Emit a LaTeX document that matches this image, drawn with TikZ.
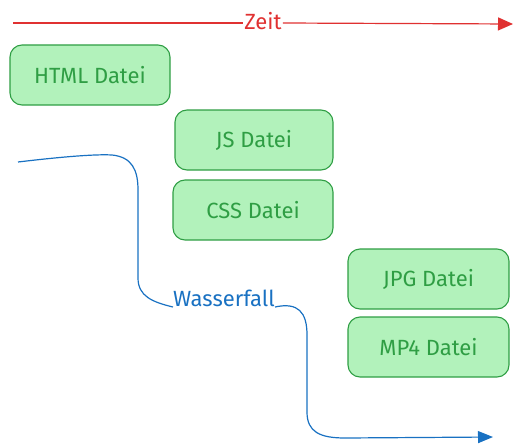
\documentclass[tikz,border=0pt]{standalone}
\usepackage{fontspec}
\setmainfont{Fira Sans}
\usetikzlibrary{arrows.meta}
\definecolor{boxfill}{HTML}{B2F2BB}
\definecolor{boxline}{HTML}{2F9E44}
\definecolor{zeitred}{HTML}{E03131}
\definecolor{fallblue}{HTML}{1971C2}
\tikzset{
  filebox/.style={draw=boxline, fill=boxfill, line width=1.1pt, rounded corners=12pt,
    minimum width=160pt, minimum height=60pt, text=boxline, font=\fontsize{22}{24}\selectfont},
  lbl/.style={inner sep=1pt, font=\fontsize{22}{24}\selectfont},
}
\begin{document}
\begin{tikzpicture}[x=1pt,y=-1pt]
\useasboundingbox (0,0) rectangle (532,444);
% time axis
\coordinate (t0) at (13,23);
\coordinate (t1) at (513,24);
\node[lbl, text=zeitred] (zeit) at (263,21) {Zeit};
\draw[zeitred, line width=1.2pt] (t0) -- (zeit.west |- t0);
\draw[zeitred, line width=1.2pt, -{Triangle[length=15pt,width=13pt]}] (zeit.east |- t0) -- (t1);
% boxes
\node[filebox] (html) at (90,75) {HTML Datei};
\node[filebox, minimum width=158pt] (js) at (254,140) {JS Datei};
\node[filebox] (css) at (253,210) {CSS Datei};
\node[filebox, minimum width=161pt] (jpg) at (428.5,279) {JPG Datei};
\node[filebox, minimum width=161pt] (mp4) at (428.5,347) {MP4 Datei};
% waterfall
\node[lbl, text=fallblue, anchor=south, inner sep=0pt] (wf) at (224,307) {Wasserfall};
\coordinate (w0) at (18,162);
\coordinate (w3) at (493,437);
\draw[fallblue, line width=1.2pt] (w0) .. controls (60,157) and (95,154) .. (112,155)
  .. controls (132,157) and (138,170) .. (138,190) -- (138,278)
  .. controls (138,296) and (152,302) .. (wf.south west);
\draw[fallblue, line width=1.2pt, -{Triangle[length=15pt,width=12pt]}] (wf.south east)
  .. controls (298,302) and (307,312) .. (307,335) -- (307,412)
  .. controls (307,432) and (320,438) .. (345,438) -- (w3);
\end{tikzpicture}
\end{document}
